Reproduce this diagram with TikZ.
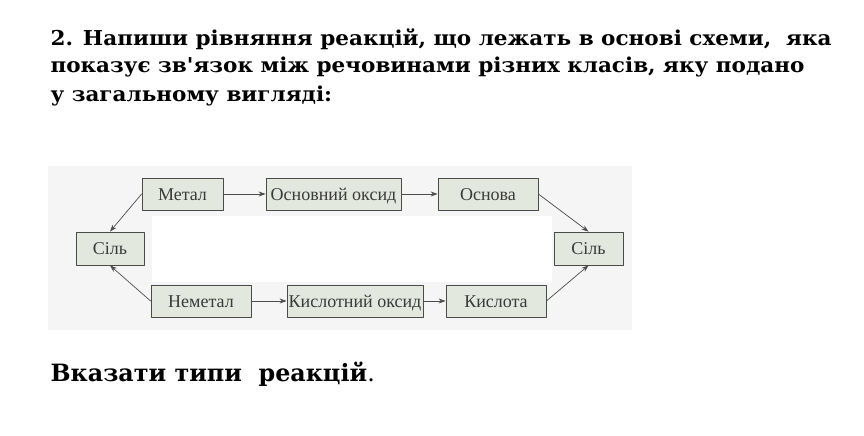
\documentclass[tikz,border=0pt]{standalone}
\usepackage{fontspec}
\usetikzlibrary{arrows.meta}
\setmainfont{Liberation Serif}
\newfontfamily\headfont[FakeStretch=1.05]{DejaVu Serif}
\newfontfamily\slabfont{DejaVu Serif}
\definecolor{boxfill}{HTML}{E2E8DE}
\definecolor{boxline}{HTML}{4A4A4A}
\definecolor{inktext}{HTML}{3A3A3A}
\tikzset{
	klas/.style={draw=boxline, fill=boxfill, line width=0.8pt, minimum height=32pt, inner sep=0pt, text height=12pt, text depth=0pt, text=inktext, font=\fontsize{18}{19}\selectfont},
	zv/.style={->, draw=black!70, line width=0.7pt}
}
\begin{document}
\begin{tikzpicture}[x=1pt, y=-1pt, line join=round, line cap=round, >={Stealth[length=7pt,width=5pt]}]
	\useasboundingbox (0,0) rectangle (864,436);
	\fill[white] (0,0) rectangle (864,436);
	% faint scan background
	\fill[black!4] (48,166) rectangle (632,330);
	\fill[white] (152,216) rectangle (552,282);
	% question
	\path[font=\headfont\bfseries\fontsize{20.5}{28}\selectfont]
	(47,46) node[anchor=base west](q1){2. Напиши рівняння реакцій, що лежать в основі схеми,\ \ яка}
	(47,73) node[anchor=base west](q2){показує зв'язок між речовинами різних класів, яку подано}
	(47,101) node[anchor=base west](q3){у загальному вигляді:};
	% scheme
	\node[klas, minimum width=81pt] (metal) at (182.5,194) {Метал};
	\node[klas, minimum width=135pt] (osnoksyd) at (333.5,194) {Основний оксид};
	\node[klas, minimum width=100pt] (osnova) at (488,194) {Основа};
	\node[klas, minimum width=68pt, minimum height=33pt] (silL) at (110,248.5) {Сіль};
	\node[klas, minimum width=69pt, minimum height=33pt] (silR) at (588.5,248.5) {Сіль};
	\node[klas, minimum width=100pt] (nemetal) at (201,301) {Неметал};
	\node[klas, minimum width=136pt] (kysloksyd) at (355,301) {Кислотний оксид};
	\node[klas, minimum width=100pt] (kyslota) at (496,301) {Кислота};
	\draw[zv] (metal) -- (osnoksyd);
	\draw[zv] (osnoksyd) -- (osnova);
	\draw[zv] (osnova.east) -- (silR.north);
	\draw[zv] (metal.west) -- (silL.north);
	\draw[zv] (nemetal) -- (kysloksyd);
	\draw[zv] (kysloksyd) -- (kyslota);
	\draw[zv] (kyslota.east) -- (silR.south);
	\draw[zv] (nemetal.west) -- (silL.south);
	% task
	\node[anchor=base west, font=\slabfont\fontsize{23.8}{26}\selectfont] (task) at (47,381) {\textbf{Вказати типи\ \ реакцій}.};
\end{tikzpicture}
\end{document}
